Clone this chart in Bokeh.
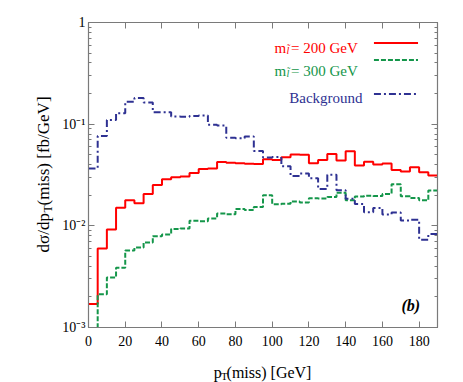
import math
from bokeh.plotting import figure
from bokeh.layouts import row, column
from bokeh.models import (Range1d, LinearAxis, LogAxis, FixedTicker, LogTicker,
                          CustomJSTickFormatter, Label)
from bokeh.core.properties import value
from bokeh.embed import file_html
from bokeh.resources import INLINE

# ---------------- data ----------------
bin_edges = [0, 5, 10, 15, 20, 25, 30, 35, 40, 45, 50, 55, 60, 65, 70, 75, 80, 85, 90,
             95, 100, 105, 110, 115, 120, 125, 130, 135, 140, 145, 150, 155, 160, 165,
             170, 175, 180, 185, 190]

sig200 = [0.0017, 0.0060, 0.0092, 0.0151, 0.0179, 0.0167, 0.0206, 0.0252, 0.0288, 0.0300,
          0.0306, 0.0330, 0.0362, 0.0366, 0.0424, 0.0418, 0.0412, 0.0408, 0.0406, 0.0452,
          0.0443, 0.0472, 0.0502, 0.0500, 0.0412, 0.0443, 0.0508, 0.0440, 0.0540, 0.0392,
          0.0426, 0.0402, 0.0410, 0.0355, 0.0343, 0.0376, 0.0336, 0.0312]

sig300 = [0.0004, 0.00212, 0.0031, 0.00386, 0.00572, 0.00612, 0.00686, 0.0079, 0.0082, 0.0093,
          0.0094, 0.0112, 0.0111, 0.0118, 0.0132, 0.0130, 0.0146, 0.0143, 0.0153, 0.0200,
          0.0163, 0.0165, 0.0174, 0.0170, 0.0187, 0.0186, 0.0192, 0.0212, 0.0178, 0.0194,
          0.0198, 0.0197, 0.0206, 0.0257, 0.0195, 0.0188, 0.0178, 0.0222]

background = [0.0366, 0.0765, 0.110, 0.128, 0.166, 0.181, 0.163, 0.131, 0.131, 0.119,
              0.118, 0.120, 0.122, 0.0985, 0.0970, 0.0735, 0.0725, 0.0755, 0.0545, 0.0470,
              0.0475, 0.0385, 0.0310, 0.0327, 0.0293, 0.0230, 0.0318, 0.0224, 0.0185, 0.0164,
              0.0136, 0.0150, 0.0129, 0.0135, 0.0113, 0.0115, 0.0073, 0.0083]

x_ticks = [0, 20, 40, 60, 80, 100, 120, 140, 160, 180]
y_tick_exps = [-3, -2, -1, 0]
y_tick_labels = ["10\u207b\u00b3", "10\u207b\u00b2", "10\u207b\u00b9", "1"]

series_labels = ["= 200 GeV", "= 300 GeV", "Background"]

# ---------------- style ----------------
RED = "#ff0000"
GREEN = "#14964a"
BLUE = "#2e3192"
AX = "#7a7a7a"
FONT = "Liberation Serif"

p = figure(width=407, height=362, x_range=Range1d(0, 190), y_range=Range1d(1e-3, 1),
           y_axis_type="log", output_backend="svg", toolbar_location=None, title=None,
           min_border_left=32, min_border_right=26, min_border_top=22, min_border_bottom=35)
p.xgrid.visible = False
p.ygrid.visible = False
p.outline_line_color = AX
p.outline_line_width = 1.2

fmt = CustomJSTickFormatter(args=dict(exps=y_tick_exps, labs=y_tick_labels), code="""
const e = Math.round(Math.log10(tick));
const i = exps.indexOf(e);
return i >= 0 ? labs[i] : "";
""")
blank = CustomJSTickFormatter(code="return '';")


def style(ax):
    ax.axis_line_color = AX
    ax.major_tick_line_color = AX
    ax.minor_tick_line_color = AX
    ax.major_tick_in = 6
    ax.major_tick_out = 0
    ax.minor_tick_in = 3
    ax.minor_tick_out = 0
    ax.major_label_text_font = FONT
    ax.major_label_text_font_size = "14px"
    ax.major_label_text_color = "black"


xa = p.xaxis[0]
xa.ticker = FixedTicker(ticks=x_ticks)
style(xa)
xa.minor_tick_line_color = None
xa.major_label_standoff = 8

ya = p.yaxis[0]
ya.ticker = LogTicker(num_minor_ticks=10, mantissas=[1])
ya.formatter = fmt
style(ya)
ya.major_label_standoff = 3

top = LinearAxis(ticker=FixedTicker(ticks=x_ticks), formatter=blank)
style(top)
top.minor_tick_line_color = None
top.major_label_standoff = 0
p.add_layout(top, "above")

right = LogAxis(ticker=LogTicker(num_minor_ticks=10, mantissas=[1]), formatter=blank)
style(right)
right.major_label_standoff = 0
p.add_layout(right, "right")

# ---------------- histograms ----------------
p.step(x=bin_edges, y=sig200 + [sig200[-1]], mode="after", line_color=RED, line_width=2)
p.step(x=bin_edges, y=sig300 + [sig300[-1]], mode="after", line_color=GREEN, line_width=2,
       line_dash="5 2")
p.step(x=bin_edges, y=background + [background[-1]], mode="after", line_color=BLUE,
       line_width=2, line_dash="7 3 2 3")

# ---------------- legend (manual) ----------------
lx0, lx1 = 155.4, 179.4
p.line(x=[lx0, lx1], y=[0.627, 0.627], line_color=RED, line_width=2)
p.line(x=[lx0, lx1], y=[0.427, 0.427], line_color=GREEN, line_width=2, line_dash="5 2")
p.line(x=[lx0, lx1], y=[0.198, 0.198], line_color=BLUE, line_width=2, line_dash="7 3 2 3")


def lab(fig, x, y, text, color="black", size="15px", xo=0, yo=0, align="left",
        baseline="alphabetic", angle=0, style="normal"):
    fig.add_layout(Label(x=x, y=y, text=text, text_color=color, text_font=FONT,
                         text_font_size=size, x_offset=xo, y_offset=yo, text_align=align,
                         text_baseline=baseline, angle=angle, text_font_style=style))


mx = 101.3
for yb, col, txt in [(0.5675, RED, series_labels[0]), (0.335, GREEN, series_labels[1])]:
    lab(p, mx, yb, "m", col, "15px")
    lab(p, mx, yb, "l\u0303", col, "10px", xo=12, yo=-3, style="italic")
    lab(p, mx, yb, txt, col, "15px", xo=16.5)
lab(p, 149.2, 0.1789, series_labels[2], BLUE, "15px", align="right")

# panel tag
lab(p, 175.5, 0.00163, "(b)", "black", "16px", align="center", baseline="middle",
    style="bold italic")


# ---------------- axis titles in their own strips ----------------
def strip(w, h):
    f = figure(width=w, height=h, x_range=Range1d(0, w), y_range=Range1d(0, h), title=None,
               x_axis_location=None, y_axis_location=None, output_backend="svg",
               toolbar_location=None, min_border=0, min_border_left=0, min_border_right=0,
               min_border_top=0, min_border_bottom=0)
    f.outline_line_color = None
    f.grid.visible = False
    return f


yfig = strip(56, 382)
ang = math.pi / 2
yfig.text(x=[43, 47, 43], y=[130, 170, 177],
          text=["d\u03c3/dp", "T", "(miss)  [fb/GeV]"],
          text_font=value(FONT), text_font_size=["17px", "12px", "17px"],
          text_color="black", angle=ang, text_align="left", text_baseline="alphabetic")

xfig = strip(407, 20)
xfig.text(x=[146, 154.5, 161], y=[10, 6.5, 10],
          text=["p", "T", "(miss) [GeV]"],
          text_font=value(FONT), text_font_size=["16px", "11px", "16px"],
          text_color="black", text_align="left", text_baseline="alphabetic")

layout = row(yfig, column(p, xfig, spacing=0), spacing=0)

open("out.html", "w").write(file_html(layout, INLINE))
